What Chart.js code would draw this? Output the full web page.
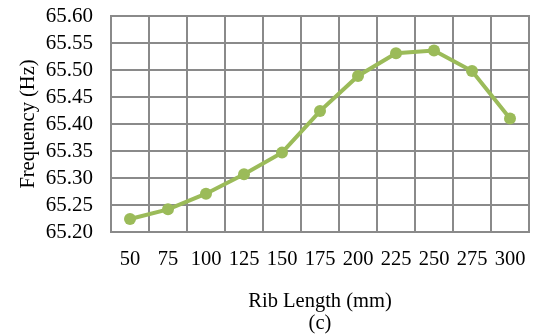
<!DOCTYPE html>
<html>
<head>
<meta charset="utf-8">
<script src="https://cdn.jsdelivr.net/npm/chart.js@4"></script>
<style>
  html, body { margin: 0; padding: 0; background: #fff; }
  #wrap { width: 535px; height: 336px; }
</style>
</head>
<body>
<div id="wrap"><canvas id="chart" width="535" height="336"></canvas></div>
<script>
// rib length (mm) vs. natural frequency (Hz)
const ribLengths = ['50', '75', '100', '125', '150', '175', '200', '225', '250', '275', '300'];
const frequencies = [65.224, 65.242, 65.271, 65.307, 65.347, 65.424, 65.489, 65.531, 65.536, 65.498, 65.410];
const yTicks = [65.20, 65.25, 65.30, 65.35, 65.40, 65.45, 65.50, 65.55, 65.60];

const serif = 'Liberation Serif';
const gridColor = '#8a8a8a';

const ctx = document.getElementById('chart').getContext('2d');
const chart = new Chart(ctx, {
  type: 'line',
  data: {
    labels: ribLengths,
    datasets: [{
      data: frequencies,
      borderColor: '#9bbb59',
      backgroundColor: '#9bbb59',
      borderWidth: 4,
      pointRadius: 6,
      pointBorderWidth: 0,
      fill: false,
      tension: 0
    }]
  },
  options: {
    responsive: false,
    animation: false,
    layout: { padding: { left: 16, right: 2, top: 16, bottom: 2 } },
    plugins: { legend: { display: false }, tooltip: { enabled: false } },
    scales: {
      x: {
        offset: true,
        grid: { offset: true, color: gridColor, lineWidth: 2, drawTicks: false },
        border: { color: gridColor, width: 2 },
        ticks: { color: '#000', font: { family: serif, size: 20.5 }, padding: 15, maxRotation: 0, autoSkip: false },
        title: {
          display: true,
          text: ['Rib Length (mm)', '(c)'],
          color: '#000',
          font: { family: serif, size: 20.5, lineHeight: 1.05 },
          padding: { top: 27, bottom: 0 }
        },
        afterFit: s => {
          s.height = 336 - 232 - 2;
          s.paddingLeft = 0;
          s.paddingRight = 0;
        }
      },
      y: {
        min: 65.2,
        max: 65.6,
        afterBuildTicks: s => { s.ticks = yTicks.map(v => ({ value: v })); },
        grid: { color: gridColor, lineWidth: 2, drawTicks: false },
        border: { color: gridColor, width: 2 },
        ticks: {
          color: '#000',
          font: { family: serif, size: 21 },
          padding: 18,
          autoSkip: false,
          callback: v => v.toFixed(2)
        },
        title: {
          display: true,
          text: 'Frequency (Hz)',
          color: '#000',
          font: { family: serif, size: 20.5 },
          padding: { top: 0, bottom: 2 }
        },
        afterFit: s => {
          s.width = 111 - 16;
          s.paddingTop = 0;
          s.paddingBottom = 0;
        }
      }
    }
  },
  plugins: [{
    // closing right edge of the plot frame
    id: 'frameRight',
    afterDraw(c) {
      const a = c.chartArea, g = c.ctx;
      g.save();
      g.strokeStyle = gridColor;
      g.lineWidth = 2;
      g.beginPath();
      g.moveTo(a.right, a.top - 1);
      g.lineTo(a.right, a.bottom + 1);
      g.stroke();
      g.restore();
    }
  }]
});
</script>
</body>
</html>
